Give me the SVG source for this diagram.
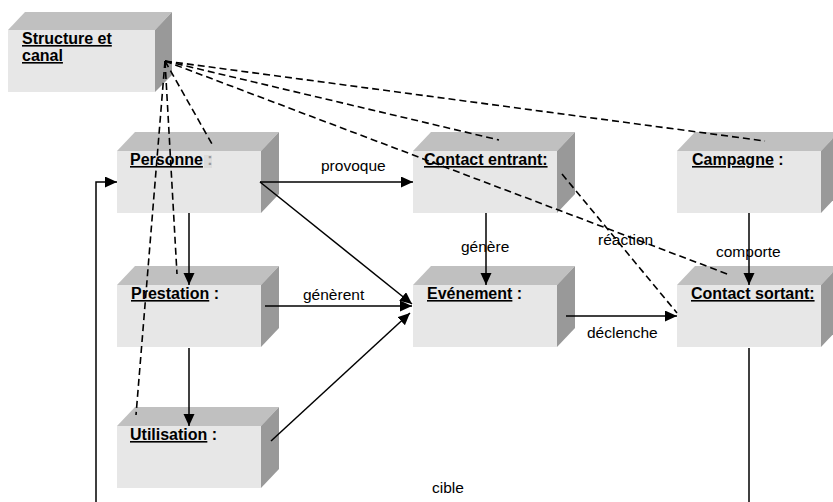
<svg xmlns="http://www.w3.org/2000/svg" width="833" height="502" viewBox="0 0 833 502">
  <style>
    .front { fill: #e7e7e7; }
    .top { fill: #c0c0c0; }
    .side { fill: #999999; }
    .title { font-family: "Liberation Sans", Arial, sans-serif; font-size: 16px; font-weight: bold; fill: #000; }
    .u { text-decoration: underline; }
    .lbl { font-family: "Liberation Sans", Arial, sans-serif; font-size: 15.5px; fill: #000; }
    .link { stroke: #000; stroke-width: 1.5; fill: none; }
    .arrow { marker-end: url(#head); }
    .dash { stroke: #000; stroke-width: 1.6; fill: none; stroke-dasharray: 7 4; }
  </style>
  <defs>
    <marker id="head" markerUnits="userSpaceOnUse" markerWidth="13" markerHeight="12" refX="12" refY="5.5" orient="auto">
      <path d="M0,0 L12,5.5 L0,11 z" fill="#000"/>
    </marker>
    <!-- box solid: front face 144x62, depth 18 right / 19 up -->
    <g id="box">
      <polygon class="top" points="0,0 18,-19 162,-19 144,0"/>
      <polygon class="side" points="144,0 162,-19 162,43 144,62"/>
      <rect class="front" x="0" y="0" width="144" height="62"/>
    </g>
  </defs>

  <rect width="833" height="502" fill="#ffffff"/>

  <!-- nodes -->
  <g id="structure">
    <polygon class="top" points="8,30 25,12 172,12 155,30"/>
    <polygon class="side" points="155,30 172,12 172,75 155,92"/>
    <rect class="front" x="8" y="30" width="147" height="62"/>
    <text class="title" x="22" y="44"><tspan class="u">Structure et</tspan></text>
    <text class="title" x="22" y="61"><tspan class="u">canal</tspan></text>
  </g>

  <g id="personne">
    <use href="#box" x="117" y="151"/>
    <rect x="204" y="155" width="8" height="13" fill="#dcdcdc"/>
    <text class="title" x="130" y="165"><tspan class="u">Personne</tspan><tspan fill="#999"> :</tspan></text>
  </g>

  <g id="contact-entrant">
    <use href="#box" x="413" y="151"/>
    <text class="title" x="424" y="165"><tspan class="u">Contact entrant:</tspan></text>
  </g>

  <g id="campagne">
    <use href="#box" x="677" y="151"/>
    <text class="title" x="692" y="165"><tspan class="u">Campagne</tspan> :</text>
  </g>

  <g id="prestation">
    <use href="#box" x="117" y="285"/>
    <text class="title" x="131" y="299"><tspan class="u">Prestation</tspan> :</text>
  </g>

  <g id="evenement">
    <use href="#box" x="413" y="285"/>
    <text class="title" x="427" y="299"><tspan class="u">Evénement</tspan> :</text>
  </g>

  <g id="contact-sortant">
    <use href="#box" x="677" y="285"/>
    <text class="title" x="691" y="299"><tspan class="u">Contact sortant:</tspan></text>
  </g>

  <g id="utilisation">
    <use href="#box" x="117" y="426"/>
    <text class="title" x="130" y="440"><tspan class="u">Utilisation</tspan> :</text>
  </g>

  <!-- connectors -->
  <g id="connectors">
    <!-- dashed links from Structure et canal -->
    <line class="dash" x1="165" y1="61" x2="212" y2="144"/>
    <line class="dash" x1="165" y1="61" x2="177" y2="274"/>
    <line class="dash" x1="165" y1="61" x2="136" y2="415"/>
    <line class="dash" x1="165" y1="61" x2="499" y2="140"/>
    <line class="dash" x1="165" y1="61" x2="765" y2="141"/>
    <line class="dash" x1="165" y1="61" x2="730" y2="275"/>
    <!-- réaction -->
    <line class="dash" x1="562" y1="174" x2="677" y2="313"/>

    <!-- cible: loop from Contact sortant to Personne -->
    <line class="link" x1="749" y1="348" x2="749" y2="502"/>
    <polyline class="link arrow" points="96,502 96,182 117,182"/>

    <!-- solid arrows -->
    <line class="link arrow" x1="260" y1="182" x2="413" y2="182"/>
    <line class="link arrow" x1="260" y1="182" x2="412" y2="304"/>
    <line class="link arrow" x1="189" y1="213" x2="189" y2="285"/>
    <line class="link arrow" x1="189" y1="348" x2="189" y2="426"/>
    <line class="link arrow" x1="265" y1="306" x2="412" y2="306"/>
    <line class="link arrow" x1="271" y1="441" x2="410" y2="313"/>
    <line class="link arrow" x1="486" y1="213" x2="486" y2="285"/>
    <line class="link arrow" x1="749" y1="213" x2="749" y2="285"/>
    <line class="link arrow" x1="566" y1="316" x2="677" y2="316"/>

    <!-- labels -->
    <text class="lbl" x="321" y="171">provoque</text>
    <text class="lbl" x="461" y="252">génère</text>
    <text class="lbl" x="598" y="245">réaction</text>
    <text class="lbl" x="716" y="257">comporte</text>
    <text class="lbl" x="303" y="300">génèrent</text>
    <text class="lbl" x="587" y="338">déclenche</text>
    <text class="lbl" x="432" y="493">cible</text>
  </g>
</svg>
